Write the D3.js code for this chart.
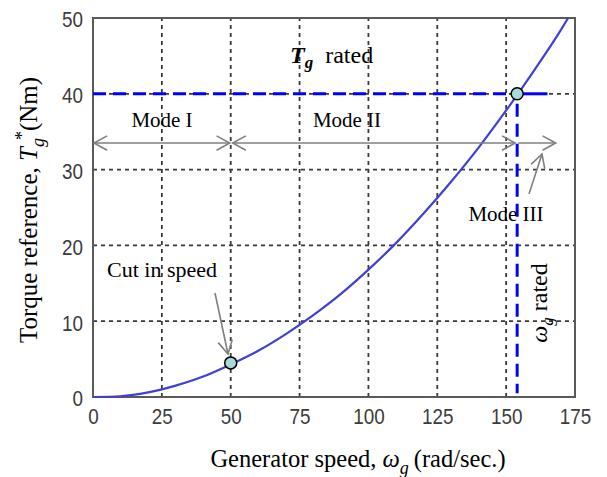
<!DOCTYPE html>
<html><head><meta charset="utf-8">
<script src="https://cdn.jsdelivr.net/npm/d3@7/dist/d3.min.js"></script>
<style>body{margin:0;background:#fff}svg{display:block}</style>
</head><body>
<script>
const speed  = [0, 10, 20, 30, 40, 50, 60, 70, 80, 90, 100, 110, 120, 130, 140, 150, 160, 170, 172.5];
const torque = [0, 0.1, 0.6, 1.5, 2.7, 4.3, 6.1, 8.3, 10.8, 13.6, 16.8, 20.3, 24.2, 28.4, 32.9, 37.8, 43.0, 48.5, 50];
const xTicks = [0, 25, 50, 75, 100, 125, 150, 175];
const yTicks = [0, 10, 20, 30, 40, 50];
const cutIn = {w: 50, t: 4.5};
const rated = {w: 154, t: 40};
const ratedEnd = 165;
const modeArrowT = 33.5;

const W = 607, H = 477;
const svg = d3.select("body").append("svg").attr("width", W).attr("height", H);
const x = d3.scaleLinear().domain([0, 175]).range([93, 575]);
const y = d3.scaleLinear().domain([0, 50]).range([397, 18]);

// grid
const grid = svg.append("g").attr("stroke", "#3a3a3a").attr("stroke-width", 1.8).attr("stroke-dasharray", "4,4");
xTicks.slice(1, -1).forEach(v => grid.append("line").attr("x1", x(v)).attr("x2", x(v)).attr("y1", y(0)).attr("y2", y(50)));
yTicks.slice(1, -1).forEach(v => grid.append("line").attr("x1", x(0)).attr("x2", x(175)).attr("y1", y(v)).attr("y2", y(v)));

// frame
svg.append("rect").attr("x", x(0)).attr("y", y(50)).attr("width", x(175) - x(0)).attr("height", y(0) - y(50))
  .attr("fill", "none").attr("stroke", "#5a5a5a").attr("stroke-width", 2);

// axes tick labels
const xAxis = d3.axisBottom(x).tickValues(xTicks).tickSize(0).tickPadding(10);
const gx = svg.append("g").attr("transform", `translate(0,${y(0)})`).call(xAxis);
const yAxis = d3.axisLeft(y).tickValues(yTicks).tickSize(0).tickPadding(10);
const gy = svg.append("g").attr("transform", `translate(${x(0)},0)`).call(yAxis);
[gx, gy].forEach(g => {
  g.select(".domain").remove();
  g.selectAll("text").attr("font-family", "Liberation Sans, Arial, sans-serif").attr("font-size", 22).attr("fill", "#3c3c3c")
    .attr("textLength", d => String(d).length * 10.5).attr("lengthAdjust", "spacingAndGlyphs");
});
gy.selectAll("text").attr("dy", "0.4em");
gx.selectAll("text").attr("dy", "0.75em");

// rated lines
svg.append("line").attr("x1", x(0)).attr("x2", x(rated.w)).attr("y1", y(rated.t)).attr("y2", y(rated.t))
  .attr("stroke", "#0000ff").attr("stroke-width", 3).attr("stroke-dasharray", "13,7");
svg.append("line").attr("x1", x(rated.w)).attr("x2", x(ratedEnd)).attr("y1", y(rated.t)).attr("y2", y(rated.t))
  .attr("stroke", "#0000ff").attr("stroke-width", 3);
svg.append("line").attr("x1", x(rated.w)).attr("x2", x(rated.w)).attr("y1", y(rated.t) + 10).attr("y2", y(0.5))
  .attr("stroke", "#0000ff").attr("stroke-width", 3).attr("stroke-dasharray", "13,7");

// curve
const line = d3.line().x((d, i) => x(speed[i])).y((d, i) => y(torque[i])).curve(d3.curveMonotoneX);
svg.append("path").datum(torque).attr("d", line).attr("fill", "none").attr("stroke", "#4040d4").attr("stroke-width", 2.2);

// points
[cutIn, rated].forEach(p => svg.append("circle").attr("cx", x(p.w)).attr("cy", y(p.t)).attr("r", 6)
  .attr("fill", "#a9dada").attr("stroke", "#000").attr("stroke-width", 1.5));

// arrows
const gray = "#808080";
function head(x1, y1, x2, y2) {
  const a = Math.atan2(y2 - y1, x2 - x1), L = 15, s = 0.5;
  const p1 = [x2 - L * Math.cos(a - s), y2 - L * Math.sin(a - s)];
  const p2 = [x2 - L * Math.cos(a + s), y2 - L * Math.sin(a + s)];
  svg.append("path").attr("d", `M${p1}L${x2},${y2}L${p2}`).attr("fill", "none").attr("stroke", gray).attr("stroke-width", 1.6);
}
function arrow(x1, y1, x2, y2, both) {
  svg.append("line").attr("x1", x1).attr("y1", y1).attr("x2", x2).attr("y2", y2).attr("stroke", gray).attr("stroke-width", 1.6);
  head(x1, y1, x2, y2);
  if (both) head(x2, y2, x1, y1);
}
const ay = y(modeArrowT);
arrow(x(0) + 1, ay, x(50) - 1, ay, true);
arrow(x(50) + 2, ay, x(rated.w) - 2, ay, true);
arrow(x(rated.w) + 1, ay, x(168), ay, false);
arrow(215, 293, 228, 354, false);
arrow(529, 194, 542, 154, false);

// text
const serif = "Liberation Serif, Times New Roman, serif";
function txt(xx, yy, s, size, anchor) {
  return svg.append("text").attr("x", xx).attr("y", yy).attr("font-family", serif).attr("font-size", size)
    .attr("text-anchor", anchor || "middle").attr("fill", "#000").text(s);
}
txt(162, 127, "Mode I", 21);
txt(347, 127, "Mode II", 21);
txt(506, 221, "Mode III", 21);
txt(162, 277, "Cut in speed", 22);

const tr = svg.append("text").attr("x", 290).attr("y", 63).attr("font-family", serif).attr("font-size", 24);
tr.append("tspan").attr("font-weight", "bold").attr("font-style", "italic").text("T");
tr.append("tspan").attr("font-weight", "bold").attr("font-style", "italic").attr("font-size", 17).attr("dy", 5).text("g");
tr.append("tspan").attr("dy", -5).text("\u2002rated");

const wr = svg.append("text").attr("transform", "translate(547,303) rotate(-90)").attr("text-anchor", "middle")
  .attr("font-family", serif).attr("font-size", 24);
wr.append("tspan").attr("font-style", "italic").text("\u03c9");
wr.append("tspan").attr("font-style", "italic").attr("font-size", 17).attr("dy", 6).text("g");
wr.append("tspan").attr("dy", -6).text(" rated");

const xl = svg.append("text").attr("x", 358).attr("y", 467).attr("text-anchor", "middle").attr("font-family", serif).attr("font-size", 24.5);
xl.append("tspan").text("Generator speed, ");
xl.append("tspan").attr("font-style", "italic").text("\u03c9");
xl.append("tspan").attr("font-style", "italic").attr("font-size", 18).attr("dy", 7).text("g");
xl.append("tspan").attr("dy", -7).text("\u2009(rad/sec.)");

const yl = svg.append("text").attr("transform", "translate(37,210) rotate(-90)").attr("text-anchor", "middle")
  .attr("font-family", serif).attr("font-size", 25);
yl.append("tspan").text("Torque reference, ");
yl.append("tspan").attr("font-style", "italic").text("T");
yl.append("tspan").attr("font-style", "italic").attr("font-size", 18).attr("dy", 7).text("g");
yl.append("tspan").attr("font-size", 18).attr("dx", -2).attr("dy", -16).text("*");
yl.append("tspan").attr("dy", 9).text("(Nm)");
</script>
</body></html>
